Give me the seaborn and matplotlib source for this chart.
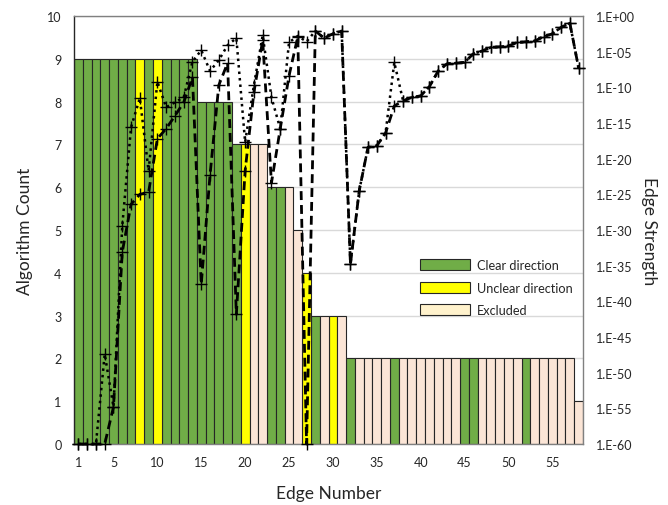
import numpy as np
import pandas as pd
import matplotlib
matplotlib.use("Agg")
import matplotlib.pyplot as plt
from matplotlib.patches import Patch
from matplotlib.ticker import FixedLocator, FuncFormatter, NullLocator
import seaborn as sns

# Edge numbers and how many algorithms detected each edge
edges = list(range(1, 59))
algorithm_count = (
    [9] * 14 + [8] * 4 + [7] * 4 + [6] * 3 + [5] + [4] + [3] * 4 + [2] * 26 + [1]
)

# Direction status per edge: C = clear direction, U = unclear direction, X = excluded
status_codes = (
    "CCCCCCCUCUCCCC"      # 1-14
    "CCCC"                # 15-18
    "CUXX"                # 19-22
    "CCX"                 # 23-25
    "X"                   # 26
    "U"                   # 27
    "CXUX"                # 28-31
    "CXXXXCXXXXXXXCCXXXXXCXXXXX"  # 32-57
    "X"                   # 58
)
status_names = {"C": "Clear direction", "U": "Unclear direction", "X": "Excluded"}
status = [status_names[c] for c in status_codes]

# Edge strength (log10) for the two scoring runs
strength_dotted_log = [
    -60, -60, -60, -47.4, -54.8, -29.4, -15.6, -11.5, -21.7, -9.2,
    -12.8, -12.1, -11.4, -6.4, -4.8, -7.7, -6.2, -4.1, -3.1, -17.7,
    -9.7, -2.7, -11.4, -15.8, -3.7, -2.8, -3.6, -2.1, -3.1, -2.5,
    -2.1, -34.8, -24.5, -18.4, -18.2, -16.4, -6.5, -11.9, -11.4, -11.2,
    -9.9, -7.7, -6.7, -6.6, -6.5, -5.3, -4.9, -4.4, -4.3, -4.2,
    -3.7, -3.6, -3.5, -2.9, -2.5, -1.6, -1.0, -7.3,
]
strength_dashed_log = [
    -60, -60, -60, -60, -54.8, -33.1, -26.4, -25.0, -24.7, -17.2,
    -15.8, -14.0, -12.1, -8.6, -37.6, -22.3, -9.7, -6.6, -41.8, -21.7,
    -10.7, -3.4, -23.4, -15.8, -8.4, -2.9, -60, -2.1, -3.1, -2.5,
    -2.1, -34.8, -24.5, -18.4, -18.2, -16.4, -12.6, -11.9, -11.4, -11.2,
    -9.9, -7.7, -6.7, -6.6, -6.5, -5.3, -4.9, -4.4, -4.3, -4.2,
    -3.7, -3.6, -3.5, -2.9, -2.5, -1.6, -1.0, -7.3,
]

x_tick_labels = [1, 5, 10, 15, 20, 25, 30, 35, 40, 45, 50, 55]

bar_colors = {
    "Clear direction": "#70AD47",
    "Unclear direction": "#FFFF00",
    "Excluded": "#FBE5D6",
}
legend_colors = {
    "Clear direction": "#70AD47",
    "Unclear direction": "#FFFF00",
    "Excluded": "#FFF2CC",
}

df = pd.DataFrame({"edge": edges, "count": algorithm_count, "status": status})
strength = pd.DataFrame({
    "edge": edges,
    "dotted": 10.0 ** np.array(strength_dotted_log),
    "dashed": 10.0 ** np.array(strength_dashed_log),
})

sns.set_theme(style="white")
font = ["Lato", "DejaVu Sans"]
plt.rcParams["font.family"] = font
text_color = "#262626"

fig = plt.figure(figsize=(6.68, 5.06), dpi=100)
ax = fig.add_axes([74 / 668, 1 - 445 / 506, (583 - 74) / 668, (445 - 17) / 506])

sns.barplot(
    data=df, x="edge", y="count", hue="status", palette=bar_colors,
    native_scale=True, dodge=False, width=1.0, saturation=1.0,
    edgecolor="#262626", linewidth=0.8, legend=False, ax=ax, zorder=2,
)

ax.set_xlim(0.5, 58.5)
ax.set_ylim(0, 10)
ax.set_yticks(range(0, 11))
ax.set_xticks(x_tick_labels)
ax.set_xticklabels([str(v) for v in x_tick_labels])
ax.tick_params(axis="both", length=0, labelsize=9, colors=text_color)
ax.tick_params(axis="x", pad=9)
ax.tick_params(axis="y", pad=9)
ax.yaxis.grid(True, color="#D9D9D9", linewidth=1.0, zorder=0)
ax.set_axisbelow(True)
ax.set_xlabel("Edge Number", fontsize=12.5, color=text_color, labelpad=12)
ax.set_ylabel("Algorithm Count", fontsize=12.5, color=text_color, labelpad=10)
for side in ["top", "right", "bottom"]:
    ax.spines[side].set_color("#808080")
    ax.spines[side].set_linewidth(1.0)
ax.spines["left"].set_color(text_color)
ax.spines["left"].set_linewidth(1.0)

ax2 = ax.twinx()
ax2.set_yscale("log")
ax2.set_ylim(1e-60, 1e0)
sns.lineplot(
    data=strength, x="edge", y="dotted", ax=ax2, color="black",
    linestyle=(0, (1, 1.6)), linewidth=1.8, marker="+", markersize=9,
    markeredgewidth=1.0, markeredgecolor="black", estimator=None,
    sort=False, clip_on=False,
)
sns.lineplot(
    data=strength, x="edge", y="dashed", ax=ax2, color="black",
    linestyle=(0, (3.2, 1.8)), linewidth=2.0, marker="+", markersize=9,
    markeredgewidth=1.0, markeredgecolor="black", estimator=None,
    sort=False, clip_on=False,
)
ax2.set_xlim(0.5, 58.5)
ax2.yaxis.set_major_locator(FixedLocator([10.0 ** -k for k in range(0, 61, 5)]))
ax2.yaxis.set_minor_locator(NullLocator())
ax2.yaxis.set_major_formatter(
    FuncFormatter(lambda v, _: "1.E{:+03d}".format(int(round(np.log10(v)))))
)
ax2.tick_params(axis="y", length=0, labelsize=9, colors=text_color, pad=9)
ax2.set_ylabel("Edge Strength", fontsize=12.5, color=text_color, rotation=270, labelpad=16)
for side in ["top", "right", "bottom", "left"]:
    ax2.spines[side].set_visible(False)

handles = [
    Patch(facecolor=legend_colors[k], edgecolor="#262626", linewidth=0.8, label=k)
    for k in ["Clear direction", "Unclear direction", "Excluded"]
]
ax2.legend(
    handles=handles, loc="upper left", bbox_to_anchor=(0.67, 0.445),
    frameon=False, fontsize=9.2, handlelength=3.9, handleheight=0.95,
    labelspacing=0.85, handletextpad=0.55, borderaxespad=0,
)

fig.savefig("out.png", dpi=100)
